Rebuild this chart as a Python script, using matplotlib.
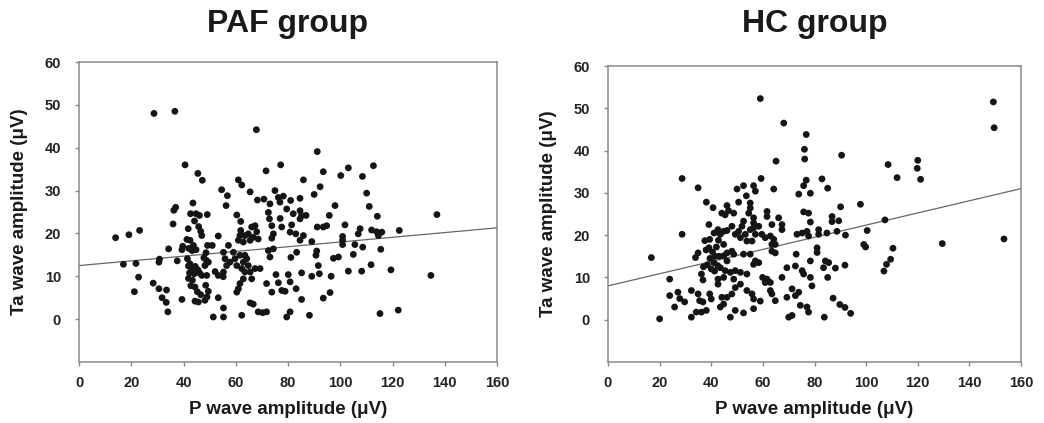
import matplotlib
matplotlib.use("Agg")
import matplotlib.pyplot as plt

plt.rcParams['font.family'] = ['Liberation Sans', 'DejaVu Sans']

# ---------------- data ----------------
paf_p = [14.0, 19.1, 23.2, 17.0, 21.8, 22.8, 21.2, 28.4, 30.6, 33.5, 31.8, 33.4, 34.0, 30.6, 30.8, 34.3,
         37.6, 39.4, 36.0, 36.3, 37.0, 40.6, 28.7, 36.7, 41.8, 41.3, 39.7, 39.4,
         45.5, 47.2, 43.6, 42.7, 44.8, 46.1, 44.2, 45.8, 46.6, 47.0, 49.1, 42.0, 43.3, 44.8, 42.5, 43.8,
         48.6, 49.2, 47.8, 48.8, 49.5, 48.2, 48.9, 48.5, 45.3, 46.6, 49.0, 49.5, 44.4, 45.7, 48.2, 41.9,
         43.2, 42.3, 44.1, 41.9, 43.4, 42.8, 44.4, 46.1, 47.0, 42.5, 44.5, 45.5, 41.5,
         67.9, 77.2, 71.6, 61.0, 62.3, 54.6, 56.8, 65.5, 75.0, 76.3, 78.2, 68.3, 70.8, 73.1, 76.9, 81.0,
         56.3, 60.4, 61.9, 72.5, 72.9, 73.8, 77.0, 77.6, 79.5, 82.0, 81.4, 80.8, 83.0, 53.3, 61.9, 63.5,
         61.6, 61.0, 62.9, 64.8, 66.1, 67.4, 68.0, 66.7, 68.6, 65.5, 74.4, 73.8, 51.0, 57.2, 72.5, 74.4,
         55.3, 55.9, 56.5, 55.3, 57.8, 59.1, 59.7, 60.4, 61.6, 62.9, 62.3, 64.2, 64.8, 63.5, 65.5, 66.1,
         67.4, 69.3, 62.9, 61.6, 61.0, 60.4, 63.5, 73.1, 52.1, 53.3, 55.2, 71.8, 73.8, 75.4, 76.3, 77.6,
         80.1, 80.8, 78.9, 83.1, 81.1, 83.3, 53.3, 55.3, 51.4, 55.3, 65.5, 66.7, 62.3, 68.6, 70.3, 71.8,
         79.5, 80.8,
         91.2, 103.1, 112.7, 93.5, 100.2, 108.5, 85.9, 92.3, 90.0, 110.1, 84.6, 98.0, 111.1, 84.6, 85.2,
         86.9, 84.6, 95.8, 114.2, 91.2, 93.5, 94.8, 101.8, 107.6, 106.9, 112.0, 113.9, 115.9, 114.6, 122.6,
         137.0, 85.9, 84.6, 89.1, 100.9, 100.9, 100.9, 105.6, 108.6, 91.0, 90.7, 115.5, 105.0, 97.4, 99.3,
         91.6, 111.8, 119.4, 103.1, 108.2, 85.2, 89.1, 92.0, 96.5, 134.7, 96.1, 93.5, 85.2, 88.2, 115.2,
         122.2]
paf_ta = [19.0, 19.7, 20.7, 12.8, 13.0, 9.8, 6.4, 8.4, 7.1, 6.8, 5.0, 3.9, 1.7, 13.3, 14.0, 16.4,
          13.6, 4.6, 22.2, 25.4, 26.1, 36.0, 48.0, 48.5, 21.1, 18.6, 17.0, 16.2,
          34.0, 32.4, 27.1, 24.6, 24.6, 24.2, 22.9, 21.6, 20.5, 19.5, 24.4, 16.5, 16.0, 16.2, 18.4, 17.2,
          15.5, 17.2, 14.3, 13.7, 13.3, 12.5, 10.2, 7.9, 6.4, 5.7, 5.2, 6.5, 4.2, 4.0, 4.4, 12.4,
          11.8, 10.8, 10.6, 9.5, 9.1, 7.8, 7.5, 10.8, 10.2, 12.9, 12.3, 11.5, 14.1,
          44.2, 36.0, 34.6, 32.5, 31.3, 30.2, 28.8, 29.7, 30.0, 28.4, 28.7, 27.8, 28.0, 26.9, 27.3, 27.7,
          26.5, 24.3, 22.8, 24.9, 23.4, 21.8, 23.5, 21.5, 25.7, 24.6, 22.0, 20.3, 19.9, 19.4, 20.7, 19.5,
          19.5, 18.4, 18.0, 19.9, 21.5, 21.8, 20.4, 19.1, 18.7, 18.4, 19.9, 18.9, 17.2, 17.2, 16.0, 16.4,
          15.6, 14.1, 12.5, 11.0, 13.3, 15.6, 14.1, 12.5, 14.9, 13.3, 11.8, 14.1, 12.5, 11.0, 11.0, 9.4,
          11.8, 11.8, 9.4, 8.3, 7.1, 6.3, 14.9, 14.5, 11.1, 10.2, 9.9, 8.3, 6.3, 10.4, 8.5, 6.7,
          10.4, 8.7, 6.5, 7.1, 14.4, 15.6, 5.0, 2.6, 0.5, 0.5, 3.8, 3.5, 0.9, 1.7, 1.5, 1.7,
          0.5, 1.7,
          39.1, 35.3, 35.8, 34.4, 33.5, 33.3, 32.5, 30.9, 29.1, 29.4, 28.2, 26.5, 26.3, 25.3, 24.2,
          24.2, 23.4, 24.2, 24.0, 21.5, 21.5, 21.8, 22.0, 21.1, 19.9, 20.8, 20.4, 20.3, 19.5, 20.7,
          24.4, 19.5, 18.4, 18.1, 19.3, 18.4, 17.4, 17.4, 16.8, 15.9, 14.9, 16.3, 15.1, 14.2, 14.5,
          12.5, 12.7, 11.5, 11.2, 11.2, 10.8, 10.0, 10.6, 10.0, 10.2, 6.2, 4.9, 4.6, 0.9, 1.3,
          2.1]

hc_p = [28.7, 34.9, 38.1, 40.7, 39.1, 28.7, 41.1, 42.6, 37.5, 39.4, 16.8, 34.9, 33.9, 23.9, 36.2, 36.8,
        23.9, 25.8, 27.1, 27.8, 29.7, 32.3, 34.9, 35.5, 36.8, 39.4, 40.0, 20.0, 32.3, 34.2, 36.2, 38.1,
        41.3, 42.6, 42.6, 39.1, 40.5, 42.0, 43.0, 39.5, 41.0, 42.5, 40.0, 38.5, 38.0, 41.5, 37.0, 42.8,
        59.0, 68.1, 76.8, 76.1, 76.2, 65.1, 59.3, 50.0, 52.5, 56.4, 57.1, 53.6, 64.2, 76.8, 75.8, 73.9,
        78.4, 82.9, 85.1, 46.1, 46.7, 50.6, 55.1, 55.1, 54.5, 61.6, 61.6, 44.1, 45.4, 48.7, 52.5, 51.9,
        56.4, 56.4, 66.1, 67.4, 67.4, 63.5, 75.8, 77.7, 78.4, 46.1, 48.0, 43.5, 44.8, 49.3, 50.6, 51.3,
        53.2, 55.1, 56.4, 58.4, 57.1, 55.8, 53.8, 59.6, 60.9, 62.9, 64.2, 63.5, 64.8, 63.5, 64.8, 73.2,
        75.2, 77.1, 77.7, 81.6, 81.6, 84.8, 81.0, 81.0, 44.8, 46.1, 48.0, 44.8, 46.1, 48.7, 52.5, 55.1,
        57.1, 58.4, 56.4, 43.5, 45.4, 47.4, 49.3, 51.3, 53.8, 44.8, 48.7, 59.9, 61.6, 60.9, 62.9, 72.9,
        69.3, 72.6, 75.2, 75.8, 78.4, 67.4, 78.4, 79.0, 84.2, 85.5, 83.5, 85.1, 51.3, 49.3, 48.0, 46.1,
        53.8, 55.8, 56.4, 62.9, 63.5, 64.8, 59.0, 56.4, 52.5, 69.3, 71.3, 72.6, 73.9, 74.5, 77.1, 77.7,
        70.0, 71.3, 83.8, 47.4, 49.3, 44.1, 44.8, 43.5,
        149.3, 149.6, 90.5, 108.5, 120.0, 119.8, 121.1, 112.0, 97.8, 90.1, 86.8, 86.8, 89.4, 88.7, 107.3,
        100.4, 92.0, 99.1, 99.8, 110.4, 129.5, 153.4, 109.5, 107.9, 106.9, 88.1, 91.8, 87.2, 89.8, 91.8,
        94.0]
hc_ta = [33.4, 31.2, 27.8, 26.5, 22.5, 20.2, 20.5, 21.3, 18.7, 19.0, 14.7, 15.8, 14.7, 9.6, 10.8, 9.4,
         5.7, 3.0, 6.5, 5.0, 4.2, 6.9, 6.1, 4.5, 4.2, 6.1, 4.9, 0.2, 0.6, 1.8, 1.8, 2.2,
         11.5, 9.6, 8.4, 17.0, 16.0, 17.2, 15.0, 14.5, 13.5, 12.8, 12.0, 13.0, 16.5, 15.0, 12.5, 18.8,
         52.3, 46.5, 43.8, 40.3, 38.0, 37.5, 33.4, 30.9, 31.7, 31.7, 30.4, 29.3, 30.9, 33.0, 31.7, 29.7,
         29.9, 33.3, 31.1, 27.0, 25.8, 27.8, 27.6, 26.4, 25.2, 25.6, 24.4, 25.2, 24.8, 25.2, 23.3, 22.1,
         24.1, 22.9, 24.1, 22.5, 21.3, 22.5, 25.5, 25.2, 23.1, 21.1, 22.1, 20.2, 20.9, 20.2, 20.9, 19.4,
         20.2, 21.3, 21.7, 22.1, 20.2, 18.6, 18.6, 20.2, 19.4, 19.8, 19.0, 17.8, 17.8, 16.2, 15.8, 20.2,
         20.5, 20.9, 19.8, 21.3, 20.2, 20.5, 17.0, 15.9, 17.8, 15.8, 16.2, 15.1, 13.9, 15.5, 15.5, 15.5,
         13.9, 13.5, 13.1, 12.3, 11.6, 11.2, 11.6, 11.2, 10.8, 10.0, 9.6, 10.0, 9.6, 8.8, 8.8, 15.5,
         12.3, 12.7, 11.6, 10.8, 13.9, 10.0, 10.0, 8.0, 13.9, 13.5, 12.3, 10.0, 8.4, 7.6, 6.1, 5.3,
         6.9, 6.1, 4.9, 6.9, 6.1, 4.5, 4.4, 2.6, 1.6, 5.3, 7.3, 5.7, 6.5, 3.4, 3.0, 1.8,
         0.6, 1.0, 0.6, 0.6, 2.2, 5.3, 3.7, 3.0,
         51.5, 45.4, 38.9, 36.7, 37.7, 35.8, 33.2, 33.6, 27.3, 26.7, 24.4, 23.2, 23.4, 20.9, 23.6,
         21.1, 20.0, 17.8, 17.2, 16.9, 18.0, 19.1, 14.3, 13.1, 11.5, 12.2, 12.9, 5.1, 3.6, 2.9,
         1.5]

# regression lines (value at x = 0 and x = 160)
fit_x = [0, 160]
paf_fit = [12.5, 21.3]
hc_fit = [8.0, 31.0]

titles = ["PAF group", "HC group"]
xticks = [0, 20, 40, 60, 80, 100, 120, 140, 160]
yticks = [0, 10, 20, 30, 40, 50, 60]

# ---------------- figure ----------------
W, H = 1044, 423
fig = plt.figure(figsize=(W / 100, H / 100), dpi=100)

def box(x0, y0, x1, y1):
    return [x0 / W, 1 - y1 / H, (x1 - x0) / W, (y1 - y0) / H]

ax1 = fig.add_axes(box(79, 62, 497, 362))
ax2 = fig.add_axes(box(608, 66, 1021, 362))

spine_col = "#8a8a8a"
for ax, px, py, fy, title in [(ax1, paf_p, paf_ta, paf_fit, titles[0]),
                              (ax2, hc_p, hc_ta, hc_fit, titles[1])]:
    ax.scatter(px, py, s=24, color="#151515", edgecolors="none", zorder=3)
    ax.plot(fit_x, fy, color="#666666", lw=0.9, zorder=2)
    ax.set_xlim(0, 160)
    ax.set_ylim(-10, 60)
    ax.set_xticks(xticks)
    ax.set_yticks(yticks)
    for s in ax.spines.values():
        s.set_color(spine_col)
        s.set_linewidth(1.1)
    ax.tick_params(axis="both", direction="out", length=3, width=1, color=spine_col,
                   labelsize=10.5, pad=7)
    for lab in ax.get_xticklabels() + ax.get_yticklabels():
        lab.set_fontweight("bold")
        lab.set_color("#222222")
    ax.tick_params(axis="y", pad=10)
    ax.set_xlabel("P wave amplitude (\u03bcV)", fontsize=13.5, fontweight="bold",
                  color="#1a1a1a", labelpad=8)
    ax.set_ylabel("Ta wave amplitude (\u03bcV)", fontsize=13.5, fontweight="bold",
                  color="#1a1a1a", labelpad=12)
    pos = ax.get_position()
    fig.text(pos.x0 + pos.width / 2, 1 - 24 / H, title, ha="center", va="center",
             fontsize=23, fontweight="bold", color="#1a1a1a")

fig.savefig("out.png", dpi=100, facecolor="white")
